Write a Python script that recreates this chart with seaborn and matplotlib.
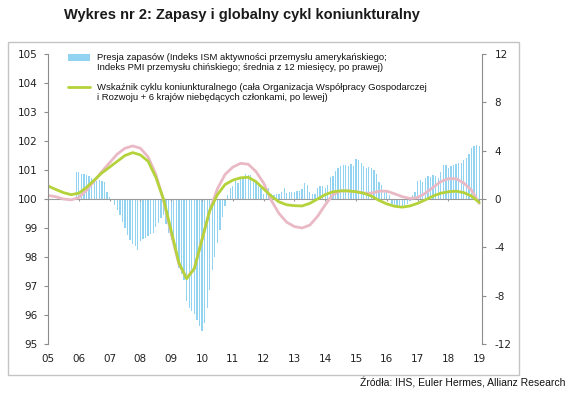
import numpy as np
import pandas as pd
import matplotlib
matplotlib.use("Agg")
import matplotlib.pyplot as plt
import seaborn as sns
from matplotlib.patches import Rectangle
from matplotlib.lines import Line2D

# ---------------- data ----------------
title = "Wykres nr 2: Zapasy i globalny cykl koniunkturalny"
source = "Źródła: IHS, Euler Hermes, Allianz Research"
legend_bar = ["Presja zapasów (Indeks ISM aktywności przemysłu amerykańskiego;",
              "Indeks PMI przemysłu chińskiego; średnia z 12 miesięcy, po prawej)"]
legend_line = ["Wskaźnik cyklu koniunkturalnego (cała Organizacja Współpracy Gospodarczej",
               "i Rozwoju + 6 krajów niebędących członkami, po lewej)"]

x_years = list(range(2005, 2020))
x_labels = ["05", "06", "07", "08", "09", "10", "11", "12", "13", "14",
            "15", "16", "17", "18", "19"]
left_ticks = [95, 96, 97, 98, 99, 100, 101, 102, 103, 104, 105]
right_ticks = [-12, -8, -4, 0, 4, 8, 12]

# inventory pressure, monthly from 2005-12 (right axis)
bar_start = "2005-12"
bar_values = [
    2.2,
    2.2, 2.1, 2.05, 1.95, 1.9, 1.7, 1.6, 1.5, 1.55, 1.5, 1.4, 0.55,
    0.2, -0.1, -0.5, -0.95, -1.35, -1.9, -2.4, -3.0, -3.4, -3.7, -3.9, -4.25,
    -3.5, -3.3, -3.2, -3.1, -2.9, -2.8, -2.3, -2.0, -1.6, -1.3, -2.1, -2.8,
    -3.4, -3.7, -4.7, -5.7, -6.2, -6.7, -8.4, -9.0, -9.3, -9.5, -10.0, -10.5,
    -10.9, -10.3, -9.0, -7.5, -5.9, -4.8, -3.6, -2.6, -1.5, -0.6, 0.3, 0.9,
    1.1, 1.5, 1.3, 1.8, 1.7, 2.1, 1.95, 1.95, 1.5, 1.4, 1.1, 0.9,
    0.45, 0.9, 0.95, 0.45, 0.3, 0.45, 0.45, 0.6, 0.9, 0.5, 0.6, 0.6,
    0.6, 0.7, 0.65, 0.8, 1.3, 1.2, 0.6, 0.4, 0.45, 0.9, 1.1, 1.1,
    0.9, 1.2, 1.8, 1.9, 2.3, 2.6, 2.75, 2.8, 2.85, 2.75, 2.9, 2.7,
    3.35, 3.2, 3.0, 2.7, 2.6, 2.65, 2.6, 2.4, 2.1, 1.4, 1.2, 0.7,
    0.6, 0.3, -0.4, -0.6, -0.55, -0.7, -0.6, -0.5, -0.4, -0.2, 0.3, 0.6,
    1.5, 1.6, 1.4, 1.7, 1.9, 1.8, 2.0, 1.9, 1.7, 2.2, 2.8, 2.8,
    2.6, 2.7, 2.8, 2.9, 3.0, 3.0, 3.2, 3.4, 3.7, 4.2, 4.4, 4.5,
    4.4,
]

# business cycle indicator, quarterly from 2005Q1 (left axis)
line_start = "2005Q1"
green_values = [
    100.45, 100.33, 100.22, 100.15,
    100.2, 100.4, 100.65, 100.9,
    101.1, 101.3, 101.5, 101.6,
    101.52, 101.3, 100.75, 100.0,
    98.9, 97.8, 97.25, 97.6,
    98.6, 99.6, 100.15, 100.5,
    100.65, 100.73, 100.75, 100.6,
    100.35, 100.1, 99.9, 99.8,
    99.77, 99.76, 99.85, 100.0,
    100.15, 100.25, 100.28, 100.28,
    100.25, 100.2, 100.1, 99.95,
    99.83, 99.75, 99.72, 99.76,
    99.85, 99.97, 100.1, 100.2,
    100.25, 100.27, 100.22, 100.1,
    99.88,
]
pink_values = [
    100.12, 100.08, 100.0, 99.97,
    100.05, 100.3, 100.62, 100.95,
    101.25, 101.55, 101.75, 101.83,
    101.75, 101.45, 100.85, 99.95,
    98.8, 97.75, 97.28, 97.6,
    98.6, 99.6, 100.35, 100.85,
    101.1, 101.23, 101.2, 100.95,
    100.55, 99.95, 99.5, 99.2,
    99.05, 99.0, 99.1, 99.4,
    99.8, 100.15, 100.28, 100.28,
    100.25, 100.2, 100.2, 100.27,
    100.27, 100.18, 100.08, 100.02,
    100.05, 100.2, 100.4, 100.6,
    100.7, 100.7, 100.55, 100.3,
    99.85,
]

# ---------------- style ----------------
sns.set_theme(style="white")
plt.rcParams['font.family'] = ['Liberation Sans', 'DejaVu Sans']
plt.rcParams['axes.unicode_minus'] = False

BAR_C = "#93d3f2"
GREEN = "#b4d23a"
PINK = "#e9b9c6"
SPINE = "#8c8c8c"

W, H = 570, 396
fig = plt.figure(figsize=(W / 100, H / 100), dpi=100)

def fx(px):
    return px / W

def fy(py):
    return 1 - py / H

# outer frame
fig.patches.append(Rectangle((fx(8), fy(375)), fx(511), 333 / H, transform=fig.transFigure,
                             fill=False, edgecolor="#c4c4c4", lw=1.0))

ax = fig.add_axes([fx(48), fy(344), fx(434), 290 / H])
ax_r = ax.twinx()

# bars (right axis)
bp = pd.period_range(bar_start, periods=len(bar_values), freq="M")
bar_t = bp.year + (bp.month - 1) / 12.0
bars_df = pd.DataFrame({"t": bar_t, "v": bar_values})
ax_r.bar(bars_df["t"], bars_df["v"], width=0.5 / 12, color=BAR_C, linewidth=0)

# lines (left axis)
lp = pd.period_range(line_start, periods=len(green_values), freq="Q")
line_t = lp.year + (lp.quarter - 1) / 4.0
lines_df = pd.DataFrame({"t": line_t, "green": green_values, "pink": pink_values})
sns.lineplot(data=lines_df, x="t", y="pink", ax=ax, color=PINK, lw=2.0, legend=False)
sns.lineplot(data=lines_df, x="t", y="green", ax=ax, color=GREEN, lw=2.0, legend=False)

ax.set_zorder(ax_r.get_zorder() + 1)
ax.patch.set_visible(False)

# zero line and year tick marks
ax.axhline(100, color="#9a9a9a", lw=0.8, zorder=1)
ax.vlines(x_years, 99.92, 100, color="#9a9a9a", lw=0.8)

ax.set_xlim(2005, 2019.09)
ax.set_ylim(95, 105)
ax_r.set_ylim(-12, 12)

ax.set_xticks(x_years)
ax.set_xticklabels(x_labels)
ax.set_yticks(left_ticks)
ax.set_yticklabels([str(v) for v in left_ticks])
ax_r.set_yticks(right_ticks)
ax_r.set_yticklabels([str(v) for v in right_ticks])
ax.set_xlabel("")
ax.set_ylabel("")
ax_r.set_ylabel("")

for a in (ax, ax_r):
    for s in ("top", "bottom"):
        a.spines[s].set_visible(False)
ax.spines["right"].set_visible(False)
ax_r.spines["left"].set_visible(False)
ax.spines["left"].set_color(SPINE)
ax.spines["left"].set_linewidth(0.8)
ax_r.spines["right"].set_color(SPINE)
ax_r.spines["right"].set_linewidth(0.8)

ax.tick_params(axis="x", length=0, pad=7, labelsize=7.5, colors="#222222")
ax.tick_params(axis="y", left=True, direction="out", length=3, width=0.8, color=SPINE,
               pad=4.5, labelsize=7.5, labelcolor="#222222")
ax_r.tick_params(axis="y", right=True, direction="out", length=3, width=0.8, color=SPINE,
                 pad=6, labelsize=7.5, labelcolor="#222222")
for lbl in ax.get_xticklabels() + ax.get_yticklabels() + ax_r.get_yticklabels():
    lbl.set_family("DejaVu Sans")

# legend (manual, handles aligned with first text line)
fig.patches.append(Rectangle((fx(68), fy(61)), fx(22), 7 / H, transform=fig.transFigure,
                             facecolor=BAR_C, edgecolor="none"))
fig.lines.append(Line2D([fx(68), fx(90)], [fy(87), fy(87)], transform=fig.transFigure,
                        color=GREEN, lw=2.0))
for i, t in enumerate(legend_bar):
    fig.text(fx(97), fy(57 + 11 * i), t, ha="left", va="center", fontsize=6.8, color="#111111")
for i, t in enumerate(legend_line):
    fig.text(fx(97), fy(87 + 11 * i), t, ha="left", va="center", fontsize=6.8, color="#111111")

fig.text(fx(242), fy(15), title, ha="center", va="center", fontsize=10.5,
         fontweight="bold", color="#1a1a1a")
fig.text(fx(565), fy(383), source, ha="right", va="center", fontsize=7.5, color="#111111")

fig.savefig("out.png", dpi=100)
